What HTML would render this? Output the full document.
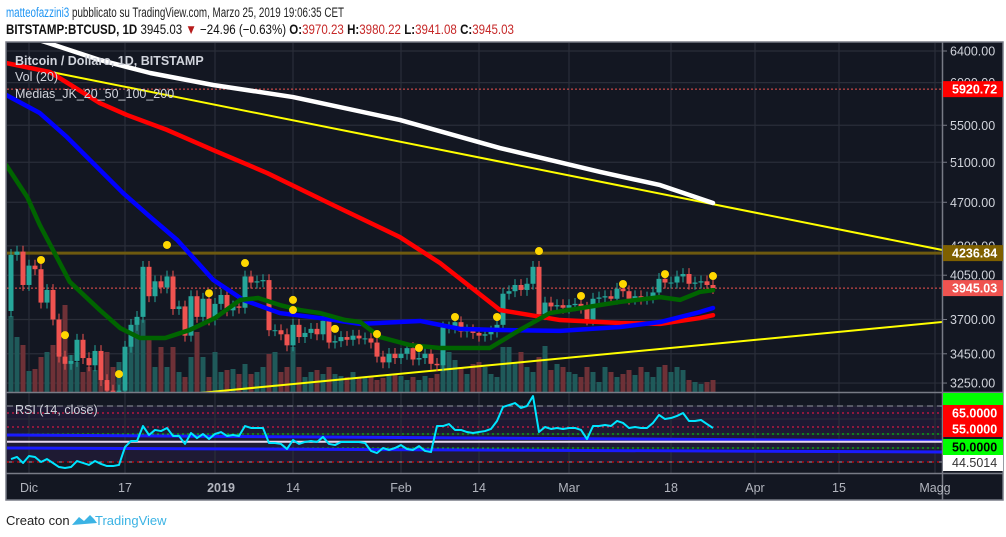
<!DOCTYPE html>
<html><head><meta charset="utf-8">
<style>
html,body{margin:0;padding:0;background:#fff;width:1006px;height:537px;overflow:hidden;font-family:"Liberation Sans",sans-serif}
svg{display:block}
</style></head>
<body>
<svg id="chart" width="1006" height="537" viewBox="0 0 1006 537" xmlns="http://www.w3.org/2000/svg" font-family="Liberation Sans, sans-serif">
<defs>
<clipPath id="pc"><rect x="7" y="43" width="935" height="349"/></clipPath>
<clipPath id="rc"><rect x="7" y="393" width="935" height="80"/></clipPath>
</defs>
<text x="6" y="17" font-size="13.5" fill="#222" textLength="338" lengthAdjust="spacingAndGlyphs"><tspan fill="#2196f3">matteofazzini3</tspan> pubblicato su TradingView.com, Marzo 25, 2019 19:06:35 CET</text>
<text x="6" y="34" font-size="13.5" fill="#111" textLength="508" lengthAdjust="spacingAndGlyphs"><tspan font-weight="bold">BITSTAMP:BTCUSD, 1D</tspan> 3945.03 <tspan fill="#b71c1c">▼</tspan> −24.96 (−0.63%) <tspan font-weight="bold">O:</tspan><tspan fill="#c62828">3970.23</tspan> <tspan font-weight="bold">H:</tspan><tspan fill="#c62828">3980.22</tspan> <tspan font-weight="bold">L:</tspan><tspan fill="#c62828">3941.08</tspan> <tspan font-weight="bold">C:</tspan><tspan fill="#c62828">3945.03</tspan></text>
<rect x="6" y="42" width="997" height="458" fill="#131722" stroke="#787b86" stroke-width="1.5"/>
<rect x="7" y="406" width="935" height="56" fill="#1e1a33"/>
<g id="grid"></g>
<g id="price" clip-path="url(#pc)"></g>
<g id="rsi" clip-path="url(#rc)"></g>
<line x1="6" y1="392.5" x2="1003" y2="392.5" stroke="#787b86" stroke-width="1.5"/>
<line x1="6" y1="473.5" x2="1003" y2="473.5" stroke="#787b86" stroke-width="1.5"/>
<line x1="942.5" y1="42" x2="942.5" y2="500" stroke="#787b86" stroke-width="1.5"/>
<g id="axes"></g>
<text x="15" y="65" font-size="12.5" font-weight="bold" fill="#d1d4dc">Bitcoin / Dollaro, 1D, BITSTAMP</text>
<text x="15" y="81" font-size="12.5" fill="#d1d4dc">Vol (20)</text>
<text x="15" y="98" font-size="12.5" fill="#d1d4dc">Medias_JK_20_50_100_200</text>
<text x="15" y="414" font-size="12.5" fill="#d1d4dc">RSI (14, close)</text>
<text x="6" y="525" font-size="13" fill="#222">Creato con</text>
<g>
<path d="M72 525 l7 -8 l5 4 l6 -6 l4 4 l3 4 z" fill="#3bb3e4"/>
<text x="95" y="525" font-size="13" fill="#3bb3e4">TradingView</text>
</g>
</svg>
<script>
// ---------- data ----------
const startDay = -3; // Nov 28 2018 relative to Dec 1
const firstOpen = 3765;
const closes = [4222,4250,3970,
4130,4100,3830,3930,3700,3430,3380,3400,3550,3420,3370,3470,3270,3200,3180,3200,3500,3660,3720,4120,3880,4000,3950,4040,3780,3800,3580,3880,3720,3860,3700,
3820,3890,3770,3800,3790,4040,3990,4000,4010,3620,3620,3590,3510,3660,3570,3600,3630,3590,3690,3530,3540,3570,3550,3580,3560,3560,3530,3430,3390,3450,3420,
3450,3490,3410,3420,3450,3380,3370,3640,3640,3680,3610,3620,3600,3580,3590,3610,3660,3900,3920,3970,3930,3980,4120,3740,3830,3800,3810,3790,
3810,3820,3790,3700,3860,3870,3880,3860,3940,3920,3860,3880,3860,3870,3910,4020,3990,3990,4040,4060,3980,3990,4000,3970,3945];
const volumes = [76,55,47,
21,23,35,40,47,52,87,37,30,20,25,22,35,40,25,30,45,52,70,72,55,25,45,25,45,20,15,35,60,35,15,
40,20,22,23,18,28,18,20,25,38,40,20,25,45,25,15,20,22,18,25,18,16,15,20,15,14,15,12,14,18,17,
16,12,15,12,16,14,18,50,40,32,25,18,28,30,25,18,15,45,45,30,40,25,20,35,46,22,28,25,
20,18,15,25,20,10,25,20,15,18,22,17,25,20,15,25,27,20,25,22,12,10,8,10,12];
const rsiValues = [32.1,33.6,29.3,34.3,33.6,30,32.1,29.3,26.4,25.7,26.4,30.7,29.3,27.9,30.7,28.6,27.1,27.1,27.9,40.7,45,45,55.7,49.3,52.9,52.1,54.3,48.6,48.6,42.9,50.7,47.1,50,46.4,50,51.4,48.6,49.3,48.6,55.7,54.3,54.3,54.3,43.6,43.6,42.9,39.3,45.7,42.9,44.3,45,44.3,47.9,42.9,42.1,44.3,44.3,44.3,44.3,43.6,37.9,36.4,40,38.6,40,42.1,39.3,38.6,41.4,37.9,37.1,55.7,55.7,57.1,52.9,52.9,51.4,50.7,51.4,52.1,53.6,59.3,69.3,70.7,72.1,68.6,70,77.1,51.4,55,53.6,54.3,53.6,54.3,54.3,52.9,46.4,55.7,55.7,56.4,55.7,59.3,57.9,54.3,55,54.3,54.3,57.9,63.6,60.7,61.4,62.9,65,59.3,59.3,60,57.1,54.3];
const ma200Days = [-8,3.2,11.8,20.2,30.7,44,61.8,78.5,95.2,105.2,114];
const ma200Vals = [6800,6505,6284,6119,5971,5826,5560,5250,5000,4868,4693];
const ma100Days = [-3.8,3.5,11.8,16.3,23,30.7,39.7,50.7,61.8,68.5,78.5,88.5,98.5,105.2,111.8,114];
const ma100Vals = [6245,6131,5755,5617,5448,5229,4989,4673,4378,4152,3772,3696,3674,3667,3711,3733];
const ma50Days = [-3.8,1.8,6.3,11.3,15.7,20.2,24.7,30.7,35.7,41.8,48.5,55.2,65.2,71.8,78.5,88.5,98.5,105.2,111.8,114];
const ma50Vals = [5850,5639,5370,5052,4788,4561,4352,4012,3851,3749,3711,3667,3689,3630,3622,3615,3644,3681,3757,3788];
const ma20Days = [-3.8,-0.3,1.8,6.8,11.8,15.2,18.5,22.7,26.8,31,35.2,38.2,41.8,45.2,48.5,52.7,55.2,58.5,63.5,68.5,76.8,81.8,86.8,95.2,98.5,105.2,108.5,111.8,114];
const ma20Vals = [5071,4751,4487,3995,3772,3636,3563,3563,3622,3711,3851,3866,3811,3772,3749,3696,3681,3570,3512,3491,3491,3622,3749,3811,3835,3873,3851,3914,3928];
const dotDays = [2,6,15,23,30,36,44,44,51,58,65,71,78,85,92,99,106,114];
const dotPrices = [4178,3584,3310,4308,3904,4152,3851,3772,3630,3592,3491,3719,3719,4255,3882,3978,4059,4043];
const trendUpperDays = [-3.8,152.2];
const trendUpperVals = [6245,4264];
const trendLowerDays = [28.5,152.2];
const trendLowerVals = [3185,3681];
const priceTicks = [6400,6000,5500,5100,4700,4300,4050,3700,3450,3250];
const priceTickLabels = ["6400.00","6000.00","5500.00","5100.00","4700.00","4300.00","4050.00","3700.00","3450.00","3250.00"];
const timeTickDays = [0,16,31,44,62,75,90,107,121,135,151];
const timeTickLabels = ["Dic","17","2019","14","Feb","14","Mar","18","Apr","15","Magg"];
const hLevels = [5920.72,4236.84,3945.03];

// ---------- axes ----------
const NS="http://www.w3.org/2000/svg";
const xOf = d => 29 + 6*d;
const yOf = p => 51 + Math.log(6400/p)*490;
const yR = v => 406 + (70-v)*1.4;
const volMax = 100, volBase = 392;
const yV = v => volBase - v/volMax*100;
function mk(tag, attrs, parent){const e=document.createElementNS(NS,tag);for(const k in attrs)e.setAttribute(k,attrs[k]);parent.appendChild(e);return e;}
const grid=document.getElementById('grid'), price=document.getElementById('price'), rsi=document.getElementById('rsi'), axes=document.getElementById('axes');

// grid
priceTicks.forEach((p,i)=>{
  const l=mk('line',{x1:7,x2:942,y1:yOf(p),y2:yOf(p),stroke:'#2a2e39','stroke-width':1.2},grid);
  
  
  const t=mk('line',{x1:942,x2:947,y1:yOf(p),y2:yOf(p),stroke:'#787b86'},axes);
  
  
  const tx=mk('text',{x:950,y:yOf(p)+4.5,'font-size':12.5,fill:'#d1d4dc'},axes);
  tx.textContent=priceTickLabels[i];
  
  
});
[406,419,434,448].forEach(y=>{const l=mk('line',{x1:7,x2:942,y1:y,y2:y,stroke:'#2a2e39'},grid);});
timeTickDays.forEach((d,i)=>{
  const l=mk('line',{x1:xOf(d),x2:xOf(d),y1:43,y2:473,stroke:'#2a2e39','stroke-width':1.2},grid);
  
  
  const tx=mk('text',{x:xOf(d)+(i==2?6:0),y:492,'font-size':12.5,fill:'#b2b5be','text-anchor':'middle','font-weight':i==2?'bold':'normal'},axes);
  tx.textContent=timeTickLabels[i];
  
  
});

// trendlines & levels
function seg(days,vals,color,w,name){
  const l=mk('line',{x1:xOf(days[0]),y1:yOf(vals[0]),x2:xOf(days[1]),y2:yOf(vals[1]),stroke:color,'stroke-width':w},price);
  
  
}
const goldLine=mk('line',{x1:7,x2:942,y1:yOf(hLevels[1]),y2:yOf(hLevels[1]),stroke:'#6e5a0f','stroke-width':3},price);


[0,2].forEach(i=>{const l=mk('line',{x1:7,x2:942,y1:yOf(hLevels[i]),y2:yOf(hLevels[i]),stroke:'#ef5350','stroke-dasharray':'2 2'},price);});

// volume
let prev=firstOpen;
closes.forEach((c,i)=>{
  const up=c>=prev; const x=xOf(startDay+i);
  const r=mk('rect',{x:x-2.5,y:yV(volumes[i]),width:5,height:volBase-yV(volumes[i]),fill:up?'#1f5a5a':'#6e3137'},price);
  
  
  prev=c;
});
seg(trendUpperDays,trendUpperVals,'#ffff00',2,'upper-trendline');
seg(trendLowerDays,trendLowerVals,'#ffff00',2,'lower-trendline');

// candles
prev=firstOpen;
closes.forEach((c,i)=>{
  const o=prev, up=c>=o, x=xOf(startDay+i), col=up?'#26a69a':'#ef5350';
  const hi=Math.max(o,c)*1.012, lo=Math.min(o,c)*0.988;
  const w=mk('line',{x1:x,x2:x,y1:yOf(hi),y2:yOf(lo),stroke:col,'stroke-width':1},price);
  
  
  const top=yOf(Math.max(o,c)), bot=yOf(Math.min(o,c));
  const b=mk('rect',{x:x-2.5,y:top,width:5,height:Math.max(1,bot-top),fill:col},price);
  
  
  prev=c;
});

// moving averages
function ma(days,vals,color,name){
  const pts=days.map((d,i)=>xOf(d)+','+yOf(vals[i])).join(' ');
  const p=mk('polyline',{points:pts,fill:'none',stroke:color,'stroke-width':4.5,'stroke-linejoin':'round','stroke-linecap':'round'},price);
  
  
}
ma(ma200Days,ma200Vals,'#ffffff','ma200-line');
ma(ma100Days,ma100Vals,'#ff0000','ma100-line');
ma(ma50Days,ma50Vals,'#0000ff','ma50-line');
ma(ma20Days,ma20Vals,'#006400','ma20-line');

// fractal dots
dotDays.forEach((d,i)=>{
  const c=mk('circle',{cx:xOf(d),cy:yOf(dotPrices[i]),r:4,fill:'#ffd700'},price);
  
  
});

// RSI pane
[[70,'#9598a1','6 4'],[30,'#9598a1','6 4']].forEach(a=>{const l=mk('line',{x1:7,x2:942,y1:yR(a[0]),y2:yR(a[0]),stroke:a[1],'stroke-dasharray':a[2]},rsi);});
[[65,'#ff1744'],[55,'#ff1744'],[50,'#00e600'],[40,'#00e600'],[30,'#ff0000']].forEach(a=>{const l=mk('line',{x1:7,x2:942,y1:yR(a[0]),y2:yR(a[0]),stroke:a[1],'stroke-dasharray':'2 3'},rsi);});
const bl1=mk('line',{x1:7,x2:942,y1:435,y2:441,stroke:'#1a1aff','stroke-width':3},rsi);


const bl2=mk('line',{x1:7,x2:942,y1:448,y2:452,stroke:'#1a1aff','stroke-width':3},rsi);


const wl=mk('line',{x1:7,x2:942,y1:yR(44.5014),y2:yR(44.5014),stroke:'#e8d8f0','stroke-width':2},rsi);


const rp=mk('polyline',{points:rsiValues.map((v,i)=>xOf(startDay+i)+','+yR(v)).join(' '),fill:'none',stroke:'#00e5ff','stroke-width':2,'stroke-linejoin':'round'},rsi);



// axis tags
function tag(y,h,bg,fg,label,name){
  const r=mk('rect',{x:943,y:y,width:60,height:h,fill:bg},axes);
  
  
  if(label){const t=mk('text',{x:952,y:y+h/2+4.5,'font-size':12.5,'font-weight':'bold',fill:fg},axes);t.textContent=label;
  
  }
}
tag(yOf(hLevels[0])-8,16,'#ff0000','#fff','5920.72','high-price-tag');
tag(yOf(hLevels[1])-8,16,'#7f6000','#fff','4236.84','level-price-tag');
tag(yOf(hLevels[2])-8,16,'#ef5350','#fff','3945.03','last-price-tag');
tag(393,12,'#00ff00','#000','','rsi-top-tag');
tag(405,32,'#ff0000','#fff','','rsi-red-tag');
tag(439,16,'#00ff00','#000','50.0000','rsi-50-tag');
tag(455,16,'#ffffff','#333','','rsi-value-tag');
[[65,413],[55,429]].forEach(a=>{const t=mk('text',{x:952,y:a[1]+4.5,'font-size':12.5,'font-weight':'bold',fill:'#fff'},axes);t.textContent=a[0].toFixed(4);});
const rv=mk('text',{x:952,y:467,'font-size':12.5,fill:'#333'},axes);rv.textContent='44.5014';


</script>
</body></html>
